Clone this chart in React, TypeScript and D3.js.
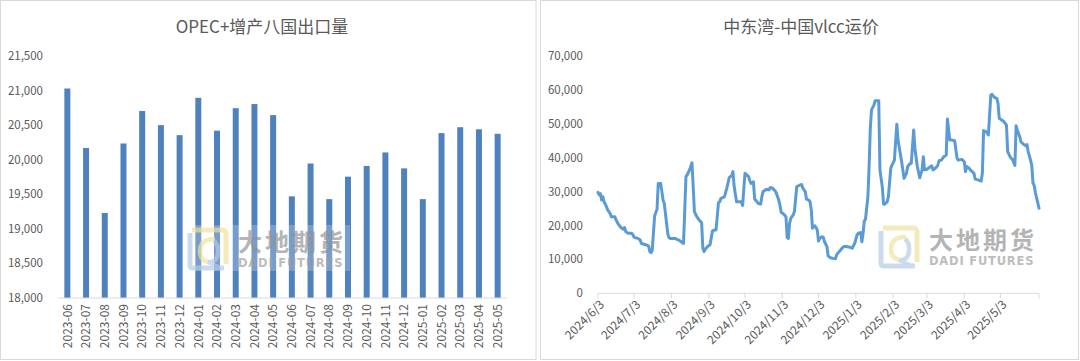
import React from "react";
import * as d3 from "d3";

// ---------- Left chart data ----------
const months = [
  "2023-06", "2023-07", "2023-08", "2023-09", "2023-10", "2023-11", "2023-12",
  "2024-01", "2024-02", "2024-03", "2024-04", "2024-05", "2024-06", "2024-07",
  "2024-08", "2024-09", "2024-10", "2024-11", "2024-12", "2025-01", "2025-02",
  "2025-03", "2025-04", "2025-05",
];
const exportVolume = [
  21030, 20170, 19230, 20235, 20705, 20500, 20355, 20895, 20420, 20745, 20805, 20645,
  19470, 19945, 19430, 19755, 19910, 20105, 19875, 19430, 20385, 20470, 20440, 20375,
];
const leftTicks = [18000, 18500, 19000, 19500, 20000, 20500, 21000, 21500];

// ---------- Right chart data ----------
const freightDates = [
  "2024-06-03", "2024-06-04", "2024-06-05", "2024-06-06", "2024-06-07", "2024-06-08", "2024-06-10",
  "2024-06-11", "2024-06-13", "2024-06-14", "2024-06-17", "2024-06-18", "2024-06-20", "2024-06-21",
  "2024-06-22", "2024-06-24", "2024-06-25", "2024-06-26", "2024-06-28", "2024-07-01", "2024-07-02",
  "2024-07-03", "2024-07-06", "2024-07-08", "2024-07-09", "2024-07-12", "2024-07-15", "2024-07-16",
  "2024-07-17", "2024-07-18", "2024-07-20", "2024-07-21", "2024-07-22", "2024-07-23", "2024-07-25",
  "2024-07-26", "2024-07-27", "2024-07-28", "2024-07-31", "2024-08-01", "2024-08-02", "2024-08-06",
  "2024-08-07", "2024-08-09", "2024-08-11", "2024-08-13", "2024-08-15", "2024-08-16", "2024-08-18",
  "2024-08-20", "2024-08-21", "2024-08-22", "2024-08-24", "2024-08-25", "2024-08-26", "2024-08-28",
  "2024-08-29", "2024-08-30", "2024-08-31", "2024-09-02", "2024-09-04", "2024-09-06", "2024-09-08",
  "2024-09-09", "2024-09-11", "2024-09-12", "2024-09-13", "2024-09-15", "2024-09-16", "2024-09-18",
  "2024-09-20", "2024-09-22", "2024-09-23", "2024-09-24", "2024-09-26", "2024-09-28", "2024-09-30",
  "2024-10-01", "2024-10-03", "2024-10-04", "2024-10-06", "2024-10-07", "2024-10-08", "2024-10-10",
  "2024-10-11", "2024-10-13", "2024-10-14", "2024-10-16", "2024-10-17", "2024-10-18", "2024-10-20",
  "2024-10-21", "2024-10-23", "2024-10-24", "2024-10-26", "2024-10-28", "2024-10-29", "2024-10-31",
  "2024-11-01", "2024-11-02", "2024-11-04", "2024-11-06", "2024-11-07", "2024-11-08", "2024-11-09",
  "2024-11-10", "2024-11-12", "2024-11-13", "2024-11-15", "2024-11-18", "2024-11-19", "2024-11-20",
  "2024-11-22", "2024-11-23", "2024-11-25", "2024-11-26", "2024-11-27", "2024-11-28", "2024-11-29",
  "2024-11-30", "2024-12-02", "2024-12-03", "2024-12-04", "2024-12-06", "2024-12-07", "2024-12-08",
  "2024-12-10", "2024-12-11", "2024-12-13", "2024-12-15", "2024-12-17", "2024-12-18", "2024-12-19",
  "2024-12-21", "2024-12-22", "2024-12-24", "2024-12-26", "2024-12-29", "2024-12-31", "2025-01-02",
  "2025-01-04", "2025-01-05", "2025-01-07", "2025-01-08", "2025-01-09", "2025-01-10", "2025-01-11",
  "2025-01-13", "2025-01-14", "2025-01-15", "2025-01-16", "2025-01-18", "2025-01-19", "2025-01-22",
  "2025-01-23", "2025-01-25", "2025-01-26", "2025-01-27", "2025-01-29", "2025-01-30", "2025-02-01",
  "2025-02-02", "2025-02-04", "2025-02-06", "2025-02-07", "2025-02-10", "2025-02-12", "2025-02-14",
  "2025-02-15", "2025-02-17", "2025-02-18", "2025-02-20", "2025-02-21", "2025-02-23", "2025-02-25",
  "2025-02-27", "2025-02-28", "2025-03-01", "2025-03-03", "2025-03-05", "2025-03-07", "2025-03-08",
  "2025-03-10", "2025-03-12", "2025-03-13", "2025-03-15", "2025-03-17", "2025-03-19", "2025-03-20",
  "2025-03-22", "2025-03-24", "2025-03-26", "2025-03-28", "2025-03-29", "2025-04-01", "2025-04-03",
  "2025-04-04", "2025-04-05", "2025-04-07", "2025-04-08", "2025-04-11", "2025-04-12", "2025-04-15",
  "2025-04-17", "2025-04-18", "2025-04-19", "2025-04-21", "2025-04-23", "2025-04-25", "2025-04-26",
  "2025-04-28", "2025-04-30", "2025-05-01", "2025-05-02", "2025-05-04", "2025-05-06", "2025-05-08",
  "2025-05-09", "2025-05-11", "2025-05-12", "2025-05-13", "2025-05-15", "2025-05-16", "2025-05-17",
  "2025-05-19", "2025-05-20", "2025-05-22", "2025-05-24", "2025-05-25", "2025-05-26", "2025-05-28",
  "2025-05-29", "2025-05-30", "2025-05-31", "2025-06-01", "2025-06-03", "2025-06-04",
];
const freightValues = [
  29800, 29000, 29400, 27500, 28500, 27000, 25600,
  24600, 23600, 22600, 22600, 21600, 20300, 19900,
  19400, 18900, 19400, 18200, 17700, 17700, 17200,
  16500, 16200, 15700, 14700, 14400, 14000, 12300,
  12000, 12600, 22800, 23800, 24800, 32400, 32400,
  30000, 27500, 26500, 17400, 16400, 16200, 16200,
  16000, 15700, 15200, 14700, 34400, 34900, 36400,
  38500, 31500, 24100, 22600, 22100, 21600, 20800,
  13300, 12300, 13000, 13800, 14300, 18400, 18700,
  18700, 26800, 27000, 28000, 28300, 28500, 31200,
  34200, 34700, 35900, 31500, 27000, 27000, 27000,
  25900, 35400, 35100, 34400, 33200, 32400, 32900,
  27800, 27000, 26500, 26300, 28500, 30000, 30500,
  30700, 30500, 31200, 31000, 30200, 29500, 27500,
  26000, 23900, 23400, 22600, 16400, 16200, 20600,
  22100, 23100, 24100, 31500, 32000, 32100, 31000,
  30000, 27800, 27500, 27000, 24600, 19200, 19700,
  19900, 18700, 15400, 16200, 16700, 16500, 15200,
  13800, 11000, 10500, 10300, 10200, 11300, 11800,
  12600, 13100, 13800, 13800, 13600, 13300, 14700,
  17200, 17700, 17900, 15200, 17700, 21300, 21800,
  28500, 37400, 48700, 54100, 55500, 56800, 56800,
  36400, 31200, 26300, 26300, 27000, 28500, 36900,
  37800, 39300, 49900, 45200, 38800, 33900, 35400,
  37400, 38300, 38300, 48200, 42800, 37400, 34100,
  36400, 40300, 36400, 36600, 37100, 37600, 36400,
  36900, 37700, 39100, 39300, 40300, 40800, 51400,
  45200, 45200, 45000, 39800, 39300, 39500, 38800,
  35900, 37400, 36900, 36400, 35400, 33700, 33400,
  33100, 35400, 48000, 47700, 46700, 58500, 58700,
  57800, 57500, 56000, 51600, 51100, 50600, 49600,
  41800, 40300, 39800, 39500, 37700, 49400, 48200,
  46200, 44700, 44000, 43500, 43900, 41800, 39300,
  37700, 32600, 31800, 29700, 26700, 25100,
];
const rightTicks = [0, 10000, 20000, 30000, 40000, 50000, 60000, 70000];
const dateTickLabels = [
  "2024/6/3", "2024/7/3", "2024/8/3", "2024/9/3", "2024/10/3", "2024/11/3",
  "2024/12/3", "2025/1/3", "2025/2/3", "2025/3/3", "2025/4/3", "2025/5/3",
];
const axisStart = "2024/6/3";
const axisEnd = "2025/6/4";

const FONT = "'Noto Sans CJK SC', 'Noto Sans', sans-serif";
const TXT = "#595959";
const AXIS = "#D9D9D9";

function Watermark({ x, y }: { x: number; y: number }) {
  return (
    <g transform={`translate(${x},${y})`} opacity={0.75}>
      <rect x={-2} y={-2} width={164} height={46} fill="#ffffff" opacity={0.3} />
      {/* logo */}
      <path d="M4,3 L34,3 Q38,3 38,7 L38,37" fill="none" stroke="#F2E4A6" strokeWidth={5} />
      <path d="M2,6 L2,38 Q2,41 5,41 L36,41" fill="none" stroke="#BBCFE6" strokeWidth={5} />
      <path d="M27,12 Q12,12 12,24 Q12,33 20,35" fill="none" stroke="#F2E4A6" strokeWidth={4.5} />
      <path d="M20,35 Q29,36 30,26 Q31,18 26,14" fill="none" stroke="#BBCFE6" strokeWidth={4.5} />
      <path d="M20,35 L33,41" fill="none" stroke="#BBCFE6" strokeWidth={4} />
      <text
        x={50}
        y={24}
        fontFamily={FONT}
        fontWeight={700}
        fontSize={24}
        letterSpacing={3}
        fill="#9C9C9C"
      >
        大地期货
      </text>
      <text
        x={50}
        y={40}
        fontFamily="'DejaVu Sans', sans-serif"
        fontWeight={700}
        fontSize={11.5}
        letterSpacing={0.8}
        fill="#A8A8A8"
      >
        DADI FUTURES
      </text>
    </g>
  );
}

function LeftChart() {
  const x = d3.scaleBand<string>().domain(months).range([58, 507]).paddingInner(0.68).paddingOuter(0.34);
  const y = d3.scaleLinear().domain([18000, 21500]).range([298, 56]);
  const fmt = d3.format(",");
  return (
    <g>
      <rect x={0.5} y={0.5} width={535.5} height={359} fill="#fff" stroke={AXIS} strokeWidth={1} />
      <text x={262} y={33} textAnchor="middle" fontFamily={FONT} fontSize={17} fill={TXT}>
        OPEC+增产八国出口量
      </text>
      {leftTicks.map((t) => (
        <text key={t} x={43} y={y(t)} dy="0.35em" textAnchor="end" fontFamily={FONT} fontSize={11.5} fill={TXT}>
          {fmt(t)}
        </text>
      ))}
      {months.map((m, i) => (
        <rect
          key={m}
          x={x(m)!}
          y={y(exportVolume[i])}
          width={x.bandwidth()}
          height={y(18000) - y(exportVolume[i])}
          fill="#4F81BD"
        />
      ))}
      <line x1={58} x2={507} y1={y(18000)} y2={y(18000)} stroke={AXIS} strokeWidth={1} />
      {months.map((m) => {
        const cx = x(m)! + x.bandwidth() / 2;
        return (
          <text
            key={m}
            transform={`translate(${cx},${y(18000) + 6}) rotate(-90)`}
            dy="0.35em"
            textAnchor="end"
            fontFamily={FONT}
            fontSize={12}
            fill={TXT}
          >
            {m}
          </text>
        );
      })}
      <Watermark x={188} y={227} />
    </g>
  );
}

function RightChart() {
  const parse = d3.timeParse("%Y-%m-%d");
  const parseTick = d3.timeParse("%Y/%m/%d");
  const x = d3.scaleTime().domain([parseTick(axisStart)!, parseTick(axisEnd)!]).range([598, 1039]);
  const y = d3.scaleLinear().domain([0, 70000]).range([293.3, 56]);
  const fmt = d3.format(",");
  const pts = freightDates.map((d, i) => [parse(d)!, freightValues[i]] as [Date, number]);
  const line = d3
    .line<[Date, number]>()
    .x((d) => x(d[0]))
    .y((d) => y(d[1]));
  const ticks = dateTickLabels.map((l) => ({ l, d: parseTick(l)! }));
  const y0 = y(0);
  return (
    <g>
      <rect x={540.5} y={0.5} width={538} height={359} fill="#fff" stroke={AXIS} strokeWidth={1} />
      <text x={801} y={33} textAnchor="middle" fontFamily={FONT} fontSize={17} fill={TXT}>
        中东湾-中国vlcc运价
      </text>
      {rightTicks.map((t) => (
        <text key={t} x={583} y={y(t)} dy="0.35em" textAnchor="end" fontFamily={FONT} fontSize={11.5} fill={TXT}>
          {fmt(t)}
        </text>
      ))}
      <line x1={598} x2={1039} y1={y0} y2={y0} stroke={AXIS} strokeWidth={1} />
      {ticks.map((t) => (
        <line key={t.l} x1={x(t.d)} x2={x(t.d)} y1={y0} y2={y0 + 5} stroke={AXIS} strokeWidth={1} />
      ))}
      <line x1={1039} x2={1039} y1={y0} y2={y0 + 5} stroke={AXIS} strokeWidth={1} />
      {ticks.map((t) => (
        <text
          key={t.l}
          transform={`translate(${x(t.d) + 4},${y0 + 9}) rotate(-45)`}
          dy="0.35em"
          textAnchor="end"
          fontFamily={FONT}
          fontSize={12}
          fill={TXT}
        >
          {t.l}
        </text>
      ))}
      <path d={line(pts)!} fill="none" stroke="#5B9BD5" strokeWidth={3} strokeLinejoin="round" strokeLinecap="round" />
      <Watermark x={879} y={225} />
    </g>
  );
}

export default function App() {
  return (
    <svg
      width={1080}
      height={361}
      style={{ position: "absolute", left: 0, top: 0, background: "#fff" }}
      xmlns="http://www.w3.org/2000/svg"
    >
      <rect width={1080} height={361} fill="#fff" />
      <LeftChart />
      <RightChart />
    </svg>
  );
}
